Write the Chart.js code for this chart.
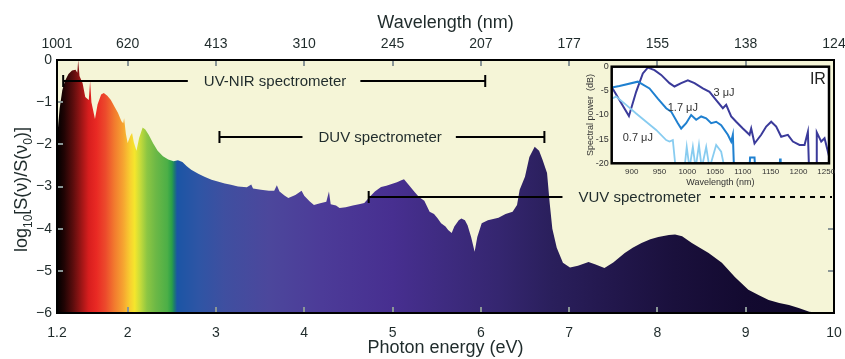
<!DOCTYPE html>
<html><head><meta charset="utf-8">
<script src="https://cdn.jsdelivr.net/npm/chart.js@4/dist/chart.umd.min.js"></script>
<style>
html,body{margin:0;padding:0;background:#fff;}
#wrap{position:relative;width:845px;height:359px;overflow:hidden;}
#main{position:absolute;left:0;top:0;}
#inset{position:absolute;left:575px;top:62px;}
</style></head><body>
<div id="wrap"><canvas id="main" width="845" height="359"></canvas><canvas id="inset" width="262" height="130"></canvas></div>
<script>
// ---------- main spectrum (photon energy in eV, log10 of normalised spectral density) ----------
const photonEnergy = [1.20,1.215,1.23,1.26,1.29,1.33,1.37,1.41,1.43,1.44,1.455,1.49,1.52,1.56,1.575,1.59,1.63,1.66,1.70,1.73,1.77,1.81,1.85,1.89,1.93,1.95,1.96,1.98,2.00,2.03,2.05,2.07,2.10,2.13,2.17,2.20,2.24,2.29,2.34,2.40,2.46,2.52,2.57,2.62,2.67,2.72,2.80,2.87,2.95,3.03,3.10,3.17,3.25,3.35,3.40,3.42,3.51,3.60,3.66,3.69,3.72,3.78,3.82,3.90,3.97,4.00,4.06,4.11,4.18,4.25,4.28,4.30,4.36,4.40,4.47,4.55,4.62,4.68,4.74,4.80,4.87,4.93,4.99,5.05,5.10,5.13,5.18,5.25,5.30,5.36,5.42,5.47,5.51,5.55,5.60,5.63,5.67,5.70,5.75,5.78,5.82,5.85,5.89,5.93,5.96,6.01,6.08,6.14,6.20,6.28,6.36,6.41,6.44,6.50,6.55,6.61,6.66,6.70,6.75,6.78,6.81,6.86,6.93,7.01,7.10,7.22,7.30,7.40,7.50,7.63,7.72,7.82,7.92,8.01,8.13,8.20,8.28,8.39,8.48,8.58,8.73,8.88,9.03,9.15,9.26,9.38,9.49,9.60,9.72,9.85,10.0];
const logSpectrum = [-1.95,-1.5,-1.15,-0.72,-0.5,-0.33,-0.25,-0.23,-0.3,0.0,-0.38,-0.55,-0.88,-0.95,-0.5,-1.0,-1.4,-1.05,-0.82,-0.78,-0.85,-0.95,-1.1,-1.25,-1.45,-1.5,-1.38,-1.75,-1.97,-1.8,-1.73,-1.95,-2.15,-1.85,-1.6,-1.65,-1.78,-1.98,-2.15,-2.28,-2.36,-2.4,-2.38,-2.42,-2.52,-2.6,-2.7,-2.77,-2.84,-2.89,-2.93,-2.96,-3.0,-3.02,-2.95,-3.05,-3.08,-3.1,-3.1,-2.97,-3.12,-3.22,-3.27,-3.2,-3.1,-3.22,-3.35,-3.44,-3.4,-3.36,-3.12,-3.42,-3.45,-3.51,-3.49,-3.45,-3.42,-3.39,-3.25,-3.12,-3.01,-2.98,-2.94,-2.9,-2.85,-2.83,-2.95,-3.13,-3.25,-3.34,-3.6,-3.65,-3.75,-3.87,-3.95,-4.03,-4.1,-3.95,-3.8,-3.76,-3.8,-3.92,-4.2,-4.55,-4.2,-3.87,-3.8,-3.77,-3.74,-3.65,-3.6,-3.44,-3.08,-2.77,-2.3,-2.06,-2.15,-2.37,-2.68,-3.39,-4.0,-4.45,-4.81,-4.92,-4.88,-4.79,-4.85,-4.93,-4.8,-4.58,-4.45,-4.34,-4.25,-4.2,-4.15,-4.14,-4.18,-4.34,-4.45,-4.58,-4.81,-5.15,-5.45,-5.58,-5.69,-5.76,-5.81,-5.88,-5.97,-6.0,-6.0];

// axis ticks
const energyTicks = [1.2,2,3,4,5,6,7,8,9,10];
const energyTickLabels = ['1.2','2','3','4','5','6','7','8','9','10'];
const wavelengthTickLabels = ['1001','620','413','310','245','207','177','155','138','124'];
const logTicks = [0,-1,-2,-3,-4,-5,-6];
const rightTickValues = [-4,-5];

// spectrometer ranges (eV) and their label level
const spectrometerNames = ['UV-NIR spectrometer','DUV spectrometer','VUV spectrometer'];
const spectrometerFrom = [1.27,3.04,4.73];
const spectrometerTo = [6.05,6.72,10.0];
const spectrometerLevel = [-0.5,-1.83,-3.25];
const spectrometerLabelAt = [3.67,4.86,7.80];
const spectrometerOpenEnd = [false,false,true];

// ---------- inset: IR spectra (wavelength nm, spectral power dB) ----------
const irWavelength3 = [864,895,908,920,929,941,953,968,977,989,1001,1013,1028,1040,1052,1064,1070,1079,1088,1100,1112,1115,1121,1133,1142,1151,1160,1169,1181,1190,1202,1211,1217,1219,1232,1233,1241,1247,1255];
const irPower3 = [-4.2,-10.2,-5.2,-1.4,-0.2,-0.7,-1.7,-3.4,-4.1,-3.4,-2.8,-3.4,-4.5,-5.2,-6.9,-8.6,-7.9,-10.3,-11.4,-12.8,-14.1,-12.8,-15.9,-14.1,-12.4,-11.4,-12.4,-14.5,-14.1,-15.5,-16.2,-16.2,-13.5,-21,-21,-13.6,-15.5,-14.8,-18.5];
const irWavelength17 = [864,878,911,932,947,962,971,983,989,998,1007,1016,1025,1034,1043,1052,1061,1073,1079,1082,1084,1112,1113,1121,1122,1166,1167,1168,1255];
const irPower17 = [-4.3,-4.0,-3.1,-4.5,-6.6,-8.6,-9.3,-11.7,-12.8,-11.7,-10.0,-11.0,-10.3,-10.7,-11.7,-11.4,-12.1,-14.1,-15.5,-14.1,-21,-21,-18.8,-18.8,-21,-21,-19.0,-21,-21];
const irWavelength07 = [864,872,890,908,926,944,962,968,974,979,995,999,1004,1010,1015,1021,1026,1034,1040,1052,1061,1067];
const irPower07 = [-6.6,-6.2,-7.9,-9.7,-11.4,-13.1,-15.2,-15.5,-15.2,-21,-21,-16.6,-21,-16.6,-21,-16.2,-21,-16.6,-21,-16.2,-17.6,-21];
const irSeriesNames = ['3 μJ','1.7 μJ','0.7 μJ'];
const irLabelWavelength = [1066,992,911];
const irLabelPower = [-5.4,-8.6,-14.8];
const insetXTicks = [900,950,1000,1050,1100,1150,1200,1250];
const insetYTicks = [0,-5,-10,-15,-20];

// ---------- styles ----------
const FONT = "'Liberation Sans', Arial, sans-serif";
const TEXT = '#1f2b2b';
const gradientEnergies = [1.20,1.28,1.38,1.48,1.56,1.65,1.75,1.85,1.95,2.03,2.08,2.14,2.22,2.32,2.45,2.50,2.53,2.56,2.8,3.1,3.6,4.2,5.0,5.6,6.2,6.8,7.5,8.2,9.0,10.0];
const gradientColors = ['#000000','#200404','#5a0d0d','#a01616','#d81e1e','#e92a24','#ec4a2c','#f27a2e','#f6a431','#f8d030','#f5e62c','#c8dc3a','#8cc643','#6cb846','#4caf47','#2aa048','#1d7a70','#1b55a5','#2e55a5','#3f4fa0','#4c479c','#4c3b98','#472f90','#3e2b80','#352670','#2a1f5c','#22174c','#1a103c','#130a30','#0e072a'];

const mainDecor = {
  id: 'mainDecor',
  beforeDraw(chart) {
    const {ctx, chartArea: a} = chart;
    ctx.save();
    ctx.fillStyle = '#fff'; ctx.fillRect(0, 0, chart.width, chart.height);
    ctx.fillStyle = '#f5f5d7'; ctx.fillRect(a.left, a.top, a.right - a.left, a.bottom - a.top);
    ctx.restore();
  },
  afterDatasetsDraw(chart) {
    const {ctx, chartArea: a, scales} = chart;
    const xs = scales.x, ys = scales.y;
    ctx.save();
    // inward tick marks
    ctx.strokeStyle = '#8a9696'; ctx.lineWidth = 2;
    ctx.beginPath();
    energyTicks.forEach(v => {
      if (v === xs.min || v === xs.max) return;
      const px = Math.round(xs.getPixelForValue(v));
      ctx.moveTo(px, a.bottom); ctx.lineTo(px, a.bottom - 6);
      ctx.moveTo(px, a.top); ctx.lineTo(px, a.top + 6);
    });
    logTicks.forEach(v => {
      if (v === ys.min || v === ys.max) return;
      const py = Math.round(ys.getPixelForValue(v));
      ctx.moveTo(a.left, py); ctx.lineTo(a.left + 6, py);
    });
    rightTickValues.forEach(v => {
      const py = Math.round(ys.getPixelForValue(v));
      ctx.moveTo(a.right, py); ctx.lineTo(a.right - 6, py);
    });
    ctx.stroke();
    // frame
    ctx.strokeStyle = '#000'; ctx.lineWidth = 2;
    ctx.strokeRect(a.left, a.top, a.right - a.left, a.bottom - a.top);
    // spectrometer ranges
    ctx.font = '15px ' + FONT;
    ctx.textAlign = 'center'; ctx.textBaseline = 'middle';
    spectrometerNames.forEach((name, i) => {
      const y = Math.round(ys.getPixelForValue(spectrometerLevel[i]));
      const x0 = xs.getPixelForValue(spectrometerFrom[i]);
      const x1 = Math.min(xs.getPixelForValue(spectrometerTo[i]), a.right - 2);
      const xc = xs.getPixelForValue(spectrometerLabelAt[i]);
      const w = ctx.measureText(name).width;
      const gl = xc - w / 2 - 16, gr = xc + w / 2 + 14;
      ctx.strokeStyle = '#000'; ctx.lineWidth = 2;
      ctx.beginPath();
      ctx.moveTo(x0, y); ctx.lineTo(gl, y);
      ctx.moveTo(x0, y - 6); ctx.lineTo(x0, y + 6);
      if (!spectrometerOpenEnd[i]) {
        ctx.moveTo(gr, y); ctx.lineTo(x1, y);
        ctx.moveTo(x1, y - 6); ctx.lineTo(x1, y + 6);
      }
      ctx.stroke();
      if (spectrometerOpenEnd[i]) {
        ctx.setLineDash([5, 5]);
        ctx.beginPath(); ctx.moveTo(gr - 5, y); ctx.lineTo(x1, y); ctx.stroke();
        ctx.setLineDash([]);
      }
      ctx.fillStyle = TEXT;
      ctx.fillText(name, xc, y + 1);
    });
    ctx.restore();
  },
  afterDraw(chart) {
    // y-axis title with subscripts
    const {ctx} = chart;
    const parts = [['log', 18, 0], ['10', 12, 5], ['[S(ν)/S(ν', 18, 0], ['0', 12, 5], [')]', 18, 0]];
    ctx.save();
    let total = 0;
    parts.forEach(p => { ctx.font = p[1] + 'px ' + FONT; total += ctx.measureText(p[0]).width; });
    const cy = (chart.chartArea.top + chart.chartArea.bottom) / 2 + 3;
    ctx.translate(27, cy);
    ctx.rotate(-Math.PI / 2);
    ctx.fillStyle = TEXT; ctx.textBaseline = 'alphabetic'; ctx.textAlign = 'left';
    let x = -total / 2;
    parts.forEach(p => {
      ctx.font = p[1] + 'px ' + FONT;
      ctx.fillText(p[0], x, p[2]);
      x += ctx.measureText(p[0]).width;
    });
    ctx.restore();
  }
};

const setTicks = vals => scale => { scale.ticks = vals.map(v => ({value: v})); };
const noPad = s => { s.paddingLeft = 0; s.paddingRight = 0; s.paddingTop = 0; s.paddingBottom = 0; };

new Chart(document.getElementById('main'), {
  type: 'line',
  data: {
    datasets: [{
      data: photonEnergy.map((e, i) => ({x: e, y: logSpectrum[i]})),
      fill: 'start',
      borderWidth: 0,
      borderColor: 'rgba(0,0,0,0)',
      pointRadius: 0,
      tension: 0,
      backgroundColor: c => {
        const chart = c.chart;
        if (!chart.chartArea) return '#4a3595';
        const xs = chart.scales.x;
        const g = chart.ctx.createLinearGradient(xs.getPixelForValue(xs.min), 0, xs.getPixelForValue(xs.max), 0);
        gradientEnergies.forEach((e, i) => g.addColorStop((e - xs.min) / (xs.max - xs.min), gradientColors[i]));
        return g;
      }
    }]
  },
  options: {
    responsive: false, animation: false, devicePixelRatio: 1,
    layout: {padding: 0},
    plugins: {legend: {display: false}, tooltip: {enabled: false}},
    scales: {
      x: {
        type: 'linear', position: 'bottom', min: 1.2, max: 10,
        afterBuildTicks: setTicks(energyTicks),
        afterFit: s => { s.height = 46; noPad(s); },
        grid: {display: false, drawTicks: false}, border: {display: false},
        ticks: {autoSkip: false, maxRotation: 0, padding: 12, color: TEXT, font: {size: 14, family: FONT},
          callback: (v, i) => energyTickLabels[i]},
        title: {display: true, text: 'Photon energy (eV)', color: TEXT, font: {size: 18, family: FONT}, padding: {top: 0, bottom: 0}}
      },
      xTop: {
        type: 'linear', position: 'top', min: 1.2, max: 10,
        afterBuildTicks: setTicks(energyTicks),
        afterFit: s => { s.height = 60; noPad(s); },
        grid: {display: false, drawTicks: false}, border: {display: false},
        ticks: {autoSkip: false, maxRotation: 0, padding: 7, color: TEXT, font: {size: 14, family: FONT},
          callback: (v, i) => wavelengthTickLabels[i]},
        title: {display: true, text: 'Wavelength (nm)', color: TEXT, font: {size: 18, family: FONT}, padding: {top: 12, bottom: 0}}
      },
      y: {
        type: 'linear', position: 'left', min: -6, max: 0,
        afterBuildTicks: setTicks(logTicks),
        afterFit: s => { s.width = 57; noPad(s); },
        grid: {display: false, drawTicks: false}, border: {display: false},
        ticks: {autoSkip: false, padding: 5, color: TEXT, font: {size: 14, family: FONT},
          callback: v => (v < 0 ? '−' + Math.abs(v) : String(v))}
      },
      yRight: {
        type: 'linear', position: 'right', min: -6, max: 0,
        afterFit: s => { s.width = 11; noPad(s); },
        grid: {display: false, drawTicks: false}, border: {display: false},
        ticks: {display: false}
      }
    }
  },
  plugins: [mainDecor]
});

// ---------- inset ----------
const insetDecor = {
  id: 'insetDecor',
  beforeDraw(chart) {
    const {ctx, chartArea: a} = chart;
    ctx.save(); ctx.fillStyle = '#fff';
    ctx.fillRect(a.left, a.top, a.right - a.left, a.bottom - a.top);
    ctx.restore();
  },
  afterDraw(chart) {
    const {ctx, chartArea: a, scales} = chart;
    ctx.save();
    ctx.strokeStyle = '#000'; ctx.lineWidth = 2.5;
    ctx.strokeRect(a.left, a.top, a.right - a.left, a.bottom - a.top);
    ctx.fillStyle = '#333'; ctx.textAlign = 'center'; ctx.textBaseline = 'middle';
    ctx.font = '11px ' + FONT;
    irSeriesNames.forEach((n, i) => {
      ctx.fillText(n, scales.x.getPixelForValue(irLabelWavelength[i]), scales.y.getPixelForValue(irLabelPower[i]));
    });
    ctx.font = '16px ' + FONT; ctx.fillStyle = '#222';
    ctx.fillText('IR', scales.x.getPixelForValue(1235), scales.y.getPixelForValue(-2.75));
    ctx.restore();
  }
};
const mk = (xs, ys) => xs.map((x, i) => ({x, y: ys[i]}));
new Chart(document.getElementById('inset'), {
  type: 'line',
  data: {
    datasets: [
      {data: mk(irWavelength07, irPower07), borderColor: '#88ccf0', borderWidth: 1.8, pointRadius: 0, tension: 0, fill: false},
      {data: mk(irWavelength17, irPower17), borderColor: '#1f80d0', borderWidth: 2, pointRadius: 0, tension: 0, fill: false},
      {data: mk(irWavelength3, irPower3), borderColor: '#3a3a9a', borderWidth: 2, pointRadius: 0, tension: 0, fill: false}
    ]
  },
  options: {
    responsive: false, animation: false, devicePixelRatio: 1,
    layout: {padding: {top: 4.7, right: 8, left: 0, bottom: 0}},
    plugins: {legend: {display: false}, tooltip: {enabled: false}},
    scales: {
      x: {
        type: 'linear', min: 864, max: 1255,
        afterBuildTicks: setTicks(insetXTicks),
        afterFit: s => { s.height = 28.7; noPad(s); },
        grid: {display: false, drawTicks: false}, border: {display: false},
        ticks: {autoSkip: false, maxRotation: 0, padding: 4, color: '#333', font: {size: 8, family: FONT},
          callback: v => String(v)},
        title: {display: true, text: 'Wavelength (nm)', color: '#333', font: {size: 9, family: FONT}, padding: {top: 0, bottom: 4}}
      },
      y: {
        type: 'linear', min: -20, max: 0,
        afterBuildTicks: setTicks(insetYTicks),
        afterFit: s => { s.width = 36.7; noPad(s); },
        grid: {display: false, drawTicks: false}, border: {display: false},
        ticks: {autoSkip: false, padding: 3, color: '#333', font: {size: 9, family: FONT},
          callback: v => String(v)},
        title: {display: true, text: 'Spectral power  (dB)', color: '#333', font: {size: 9, family: FONT}, padding: {top: 10, bottom: 0}}
      }
    }
  },
  plugins: [insetDecor]
});
</script>
</body></html>
